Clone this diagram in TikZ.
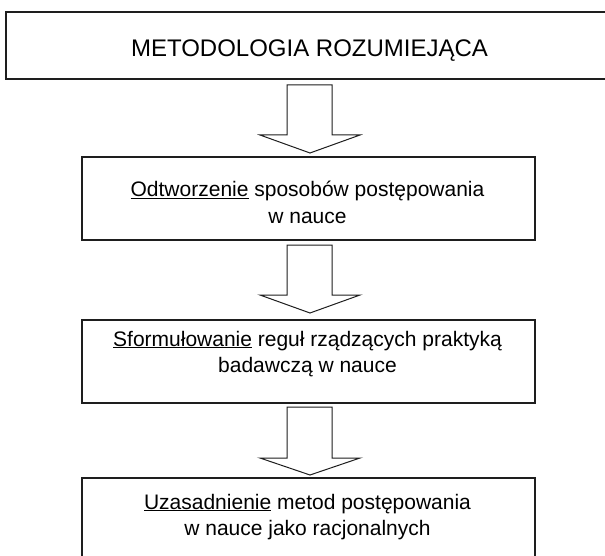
\documentclass[tikz,border=0pt]{standalone}
\usepackage{fontspec}
\setmainfont{Liberation Sans}
\definecolor{ink}{HTML}{1E1E1E}
\tikzset{
  boxnode/.style={draw=ink, line width=1.8pt, rectangle, inner sep=0pt, fill=white},
  txt/.style={anchor=base, inner sep=0pt, font=\fontsize{21}{26}\selectfont},
  titletxt/.style={anchor=base, inner sep=0pt, font=\fontsize{24}{28}\selectfont},
  blockarrow/.style={draw=ink, line width=1pt, fill=white, line join=miter}
}
\newcommand{\blockarr}[3]{% #1 top y, #2 shoulder y, #3 tip y
  \draw[blockarrow] (287,#1) -- (287,#2) -- (260,#2) -- (310,#3) -- (360,#2) -- (332,#2) -- (332,#1) -- cycle;}
\begin{document}
\begin{tikzpicture}[x=1pt,y=-1pt]
\path[use as bounding box] (0,0) rectangle (605,556);
\clip (0,0) rectangle (605,556);
\fill[white] (0,0) rectangle (605,556);
% boxes
\node[boxnode, minimum width=612pt, minimum height=67pt] (b1) at (312,45.5) {};
\node[boxnode, minimum width=453pt, minimum height=83pt] (b2) at (308.5,198.5) {};
\node[boxnode, minimum width=453pt, minimum height=83pt] (b3) at (308.5,361.5) {};
\node[boxnode, minimum width=453pt, minimum height=92pt] (b4) at (308.5,524) {};
% arrows
\blockarr{85}{135}{153}
\blockarr{245}{295}{313}
\blockarr{407}{458}{475}
% texts
\node[titletxt] (t1) at (309.5,57) {METODOLOGIA ROZUMIEJĄCA};
\node[txt] (t2a) at (307.5,197) {\underline{Odtworzenie} sposobów postępowania};
\node[txt] (t2b) at (307.5,223) {w nauce};
\node[txt] (t3a) at (307.5,346) {\underline{Sformułowanie} reguł rządzących praktyką};
\node[txt] (t3b) at (307.5,372) {badawczą w nauce};
\node[txt] (t4a) at (307.5,509) {\underline{Uzasadnienie} metod postępowania};
\node[txt] (t4b) at (307.5,535) {w nauce jako racjonalnych};
\end{tikzpicture}
\end{document}
